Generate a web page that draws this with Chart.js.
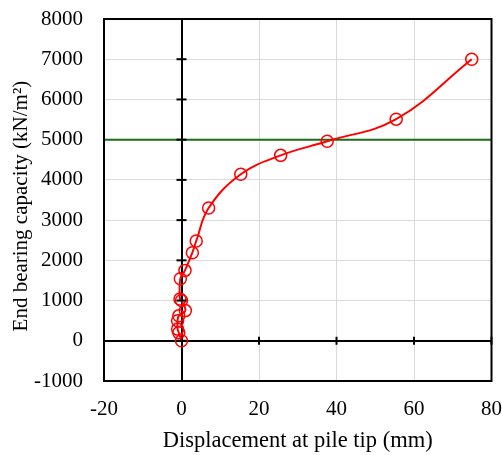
<!DOCTYPE html>
<html>
<head>
<meta charset="utf-8">
<script src="https://cdn.jsdelivr.net/npm/chart.js@4"></script>
<style>
  body { margin: 0; background: #fff; }
  #wrap { width: 502px; height: 455px; }
</style>
</head>
<body>
<div id="wrap"><canvas id="chart" width="502" height="455"></canvas></div>
<script>
// displacement at pile tip (mm) vs end bearing capacity (kN/m2)
const dispMm = [0, -0.7, -1.0, -1.0, -0.7, 1.0, 0.0, -0.4, -0.3, 0.9, 2.8, 3.8, 7.0, 15.3, 25.6, 37.6, 55.4, 74.9];
const capacity = [0, 200, 290, 500, 620, 750, 1000, 1040, 1540, 1750, 2190, 2480, 3300, 4140, 4610, 4960, 5510, 7000];
const limitX = [-20, 80];
const limitY = [5000, 5000];

const serif = "'Liberation Serif', 'Times New Roman', serif";

// black axes through zero with small cross ticks + outer frame
const axesPlugin = {
    id: 'axesPlugin',
    afterDatasetsDraw(chart) {
        const ctx = chart.ctx;
        const xs = chart.scales.x, ys = chart.scales.y;
        const a = chart.chartArea;
        const x0 = xs.getPixelForValue(0), y0 = ys.getPixelForValue(0);
        ctx.save();
        ctx.strokeStyle = '#000';
        ctx.lineWidth = 2;
        ys.ticks.forEach(t => {
            const py = ys.getPixelForValue(t.value);
            ctx.beginPath();
            ctx.moveTo(x0 - 5, py);
            ctx.lineTo(x0 + 5, py);
            ctx.stroke();
        });
        xs.ticks.forEach(t => {
            if (t.value === 0) return;
            const px = xs.getPixelForValue(t.value);
            ctx.beginPath();
            ctx.moveTo(px, y0 - 4);
            ctx.lineTo(px, y0 + 4);
            ctx.stroke();
        });
        ctx.strokeRect(a.left, a.top, a.right - a.left, a.bottom - a.top);
        ctx.restore();
    }
};

const gridColor = c => c.tick && c.tick.value === 0 ? '#000' : '#d9d9d9';
const gridWidth = c => c.tick && c.tick.value === 0 ? 2 : 1;

new Chart(document.getElementById('chart').getContext('2d'), {
    type: 'scatter',
    data: {
        datasets: [{
            label: 'limit',
            data: limitX.map((x, i) => ({ x: x, y: limitY[i] })),
            showLine: true,
            borderColor: '#1a6e1a',
            borderWidth: 2,
            pointRadius: 0,
            order: 2
        }, {
            label: 'capacity',
            data: dispMm.map((x, i) => ({ x: x, y: capacity[i] })),
            showLine: true,
            tension: 0.4,
            borderColor: '#ff0000',
            borderWidth: 2,
            pointRadius: 6,
            pointBorderWidth: 1.5,
            pointBorderColor: '#ff0000',
            pointBackgroundColor: 'rgba(0,0,0,0)',
            order: 1
        }]
    },
    options: {
        responsive: false,
        animation: false,
        layout: { padding: { top: 19, right: 0, left: 0, bottom: 0 } },
        plugins: { legend: { display: false }, tooltip: { enabled: false } },
        scales: {
            x: {
                type: 'linear',
                min: -20, max: 80,
                ticks: { stepSize: 20, color: '#000', padding: 0, font: { family: serif, size: 21 },
                         callback: v => String(v) },
                // tick marks are invisible, only used to push labels off the axis
                grid: { color: gridColor, lineWidth: gridWidth, tickLength: 16, tickColor: 'rgba(0,0,0,0)' },
                border: { display: false },
                title: { display: true, text: 'Displacement at pile tip (mm)', color: '#000', padding: { top: 4, bottom: 0 }, font: { family: serif, size: 22.5 } },
                afterFit: s => { s.height = 74; }
            },
            y: {
                type: 'linear',
                min: -1000, max: 8000,
                ticks: { stepSize: 1000, color: '#000', padding: 0, font: { family: serif, size: 21 },
                         callback: v => String(v) },
                grid: { color: gridColor, lineWidth: gridWidth, tickLength: 21, tickColor: 'rgba(0,0,0,0)' },
                border: { display: false },
                // trailing spaces nudge the rotated title down a little
                title: { display: true, text: 'End bearing capacity (kN/m²)\u2002\u200a', color: '#000', padding: { top: 9, bottom: 0 }, font: { family: serif, size: 21 } },
                afterFit: s => { s.width = 104; }
            }
        }
    },
    plugins: [axesPlugin]
});
</script>
</body>
</html>
